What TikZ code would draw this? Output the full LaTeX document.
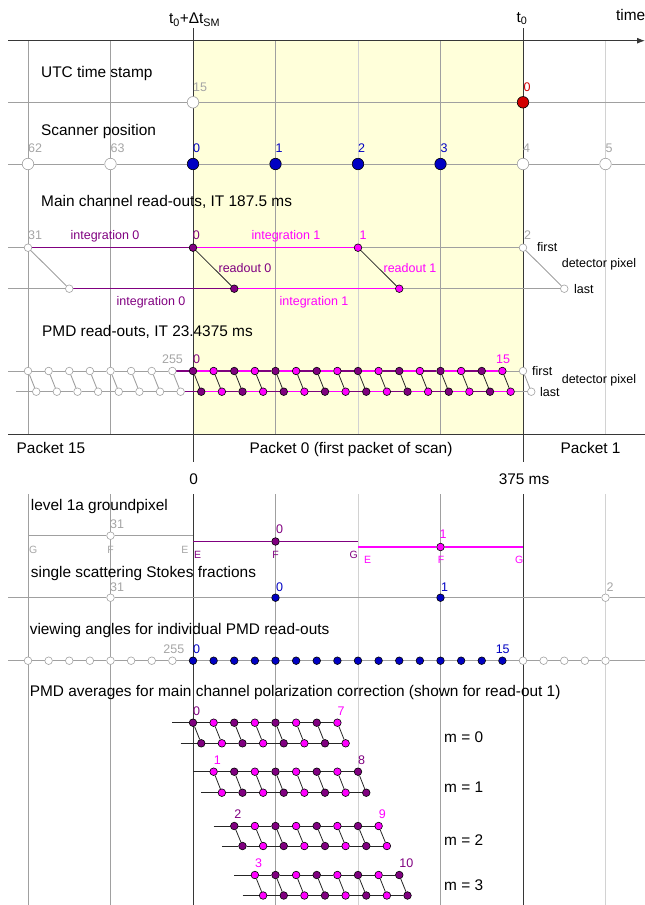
\documentclass[tikz,border=0pt]{standalone}
\usepackage{fontspec}
\setmainfont{Liberation Sans}
\usetikzlibrary{arrows.meta,calc}
\pgfdeclarelayer{back}
\pgfdeclarelayer{bg}
\pgfsetlayers{back,bg,main}
\definecolor{pur}{RGB}{128,0,128}
\definecolor{mag}{RGB}{255,0,255}
\definecolor{blu}{RGB}{0,0,195}
\definecolor{redd}{RGB}{210,0,0}
\definecolor{yel}{RGB}{255,255,218}
\definecolor{gmid}{RGB}{160,160,160}
\definecolor{glight}{RGB}{210,210,210}
\definecolor{gdark}{RGB}{55,55,55}
\definecolor{glab}{RGB}{165,165,165}
\begin{document}
\begin{tikzpicture}[x=1pt,y=-1pt,
  big/.style={font=\fontsize{15.4}{18}\selectfont,inner sep=0pt,text height=11pt,text depth=0pt},
  sml/.style={font=\fontsize{12.5}{15}\selectfont,inner sep=0pt,text height=9pt,text depth=0pt},
  tny/.style={font=\fontsize{10.5}{12}\selectfont,inner sep=0pt,text height=7.5pt,text depth=0pt},
  dot/.style={circle,draw=black,line width=0.6pt,inner sep=0pt,minimum size=7.6pt},
  wdot/.style={dot,draw=gmid,fill=white},
  pdot/.style={dot,fill=pur},
  mdot/.style={dot,fill=mag},
  bdot/.style={dot,fill=blu},
  bigw/.style={wdot,minimum size=11.5pt},
  bigb/.style={bdot,minimum size=11.5pt},
  bigr/.style={dot,fill=redd,minimum size=11.5pt},
  gline/.style={draw=gmid,line width=0.9pt},
  pline/.style={draw=pur,line width=1.3pt},
  mline/.style={draw=mag,line width=1.3pt},
  kline/.style={draw=black!85,line width=0.8pt},
]
\useasboundingbox (0,0) rectangle (645,905);

% ---------- background: yellow band, grid, axes ----------
\begin{pgfonlayer}{back}
\fill[yel] (193,40.7) rectangle (523,434);
\foreach \x/\c in {28/gmid,110.5/gmid,275.5/gmid,440.5/gmid,358/glight,605.5/glight}{
  \draw[\c,line width=0.9pt] (\x,40.7) -- (\x,434);
  \draw[\c,line width=0.9pt] (\x,494) -- (\x,905);
}
\foreach \x in {193,523}{
  \draw[gdark,line width=0.9pt] (\x,28) -- (\x,462);
  \draw[gdark,line width=0.9pt] (\x,494) -- (\x,905);
}
\coordinate (axL) at (8,40.7);
\coordinate (axR) at (645,40.7);
\draw[gdark,line width=1pt,-{Latex[length=8pt,width=6pt]}] (axL) -- (axR);
\coordinate (pkL) at (8,434);
\coordinate (pkR) at (645,434);
\draw[gdark,line width=1pt] (pkL) -- (pkR);
\end{pgfonlayer}

% ---------- top labels ----------
\node[big] (tdt) at (194.5,18) {t\textsubscript{0}+Δt\textsubscript{SM}};
\node[big] (tz) at (522,16.7) {t\textsubscript{0}};
\node[big,anchor=west] (ttime) at (616,15) {time};

% ---------- UTC time stamp ----------
\node[big,anchor=west] (hutc) at (41,72.3) {UTC time stamp};
\node[bigw] (ut0) at (193,102.3) {};
\node[bigr] (ut1) at (523,102.3) {};
\node[sml,anchor=west,text=glab] (lut0) at (193,86.7) {15};
\node[sml,anchor=west,text=redd] (lut1) at (523.5,86.7) {0};

% ---------- Scanner position ----------
\node[big,anchor=west] (hscan) at (41,130) {Scanner position};
\foreach \i/\st/\lab/\lc in {0/bigw/62/glab,1/bigw/63/glab,2/bigb/0/blu,3/bigb/1/blu,4/bigb/2/blu,5/bigb/3/blu,6/bigw/4/glab,7/bigw/5/glab}{
  \node[\st] (sc\i) at (28+82.5*\i,164) {};
  \node[sml,anchor=west,text=\lc] (lsc\i) at (28+82.5*\i,147.7) {\lab};
}

% ---------- Main channel ----------
\node[big,anchor=west] (hmain) at (41,200.7) {Main channel read-outs, IT 187.5 ms};
\node[wdot] (mf0) at (28,247.7) {};
\node[pdot] (mf1) at (193,247.7) {};
\node[mdot] (mf2) at (358,247.7) {};
\node[wdot] (mf3) at (523,247.7) {};
\node[wdot] (ml0) at (69.25,288.7) {};
\node[pdot] (ml1) at (234.25,288.7) {};
\node[mdot] (ml2) at (399.25,288.7) {};
\node[wdot] (ml3) at (564.25,288.7) {};
\node[sml,anchor=west,text=glab] (lmf0) at (28,235) {31};
\node[sml,anchor=west,text=pur] (lmf1) at (192.6,235) {0};
\node[sml,anchor=west,text=mag] (lmf2) at (359.5,235) {1};
\node[sml,anchor=west,text=glab] (lmf3) at (524,235) {2};
\node[sml,text=pur] (li0a) at (105,235) {integration 0};
\node[sml,text=mag] (li1a) at (286,235) {integration 1};
\node[sml,text=pur] (lr0) at (245,268) {readout 0};
\node[sml,text=mag] (lr1) at (410,268) {readout 1};
\node[sml,text=pur] (li0b) at (151,301) {integration 0};
\node[sml,text=mag] (li1b) at (314,301) {integration 1};
\node[sml,anchor=west] (lfirst1) at (537,247) {first};
\node[sml,anchor=west] (llast1) at (574,288.7) {last};
\node[sml] (ldp1) at (599,263) {detector pixel};

% ---------- PMD read-outs ----------
\node[big,anchor=west] (hpmd) at (42,330.7) {PMD read-outs, IT 23.4375 ms};
\foreach \i in {0,...,24}{
  \pgfmathsetmacro\xx{193+20.625*(\i-8)}
  \pgfmathtruncatemacro\kk{\i-8}
  \ifnum\kk<0 \def\st{wdot}\else\ifnum\kk>15 \def\st{wdot}\else\ifodd\kk\def\st{mdot}\else\def\st{pdot}\fi\fi\fi
  \node[\st] (pt\i) at (\xx,371) {};
  \node[\st] (pb\i) at (\xx+8.25,391.7) {};
}
\node[sml,text=glab] (lp255) at (172.5,359.3) {255};
\node[sml,anchor=west,text=pur] (lp0) at (193,359.3) {0};
\node[sml,text=mag] (lp15) at (503,358.5) {15};
\node[sml,anchor=west] (lfirst2) at (532,371) {first};
\node[sml,anchor=west] (llast2) at (540,391.7) {last};
\node[sml] (ldp2) at (599,379.3) {detector pixel};

% ---------- Packets ----------
\node[big,anchor=west] (lpk15) at (16.5,448) {Packet 15};
\node[big] (lpk0) at (351,448) {Packet 0 (first packet of scan)};
\node[big] (lpk1) at (590.5,448) {Packet 1};
\node[big] (lt0) at (193.6,479) {0};
\node[big] (lt375) at (524,479) {375 ms};

% ---------- level 1a groundpixel ----------
\node[big,anchor=west] (hgp) at (30.7,505) {level 1a groundpixel};
\node[wdot] (gp0) at (110.5,535.7) {};
\node[pdot] (gp1) at (275.5,541.5) {};
\node[mdot] (gp2) at (440.5,547) {};
\node[sml,anchor=west,text=glab] (lgp0) at (110,524) {31};
\node[sml,anchor=west,text=pur] (lgp1) at (276,529.3) {0};
\node[sml,anchor=west,text=mag] (lgp2) at (439.5,534) {1};
\node[tny,anchor=west,text=glab] (g0G) at (29,549.5) {G};
\node[tny,text=glab] (g0F) at (110.5,549.5) {F};
\node[tny,anchor=east,text=glab] (g0E) at (188.5,549.5) {E};
\node[tny,anchor=west,text=pur] (g1E) at (194,555) {E};
\node[tny,text=pur] (g1F) at (275.5,555) {F};
\node[tny,anchor=east,text=pur] (g1G) at (358,555) {G};
\node[tny,anchor=west,text=mag] (g2E) at (364,559.3) {E};
\node[tny,text=mag] (g2F) at (441,559.3) {F};
\node[tny,anchor=east,text=mag] (g2G) at (523.5,559.3) {G};

% ---------- Stokes fractions ----------
\node[big,anchor=west] (hst) at (30.7,571.7) {single scattering Stokes fractions};
\node[wdot] (st0) at (110.5,597.7) {};
\node[bdot] (st1) at (275.5,597.7) {};
\node[bdot] (st2) at (440.5,597.7) {};
\node[wdot] (st3) at (605.5,597.7) {};
\node[sml,anchor=west,text=glab] (lst0) at (110,586.7) {31};
\node[sml,anchor=west,text=blu] (lst1) at (276,586.7) {0};
\node[sml,anchor=west,text=blu] (lst2) at (441,586.7) {1};
\node[sml,anchor=west,text=glab] (lst3) at (606.5,586.7) {2};

% ---------- viewing angles ----------
\node[big,anchor=west] (hva) at (29.6,629) {viewing angles for individual PMD read-outs};
\foreach \i in {0,...,28}{
  \pgfmathsetmacro\xx{193+20.625*(\i-8)}
  \pgfmathtruncatemacro\kk{\i-8}
  \ifnum\kk<0 \def\st{wdot}\else\ifnum\kk>15 \def\st{wdot}\else\def\st{bdot}\fi\fi
  \node[\st] (va\i) at (\xx,660.7) {};
}
\node[sml,text=glab] (lva255) at (173.9,649.3) {255};
\node[sml,anchor=west,text=blu] (lva0) at (193,649.3) {0};
\node[sml,text=blu] (lva15) at (502.7,649.3) {15};

% ---------- PMD averages ----------
\node[big,anchor=west] (havg) at (29.6,691) {PMD averages for main channel polarization correction (shown for read-out 1)};
\foreach \m/\yt/\yb/\ym in {0/722.7/743.3/736.7,1/771.7/792.7/786.7,2/826/846/840,3/875/895.5/885}{
  \pgfmathtruncatemacro\kend{\m+7}
  \foreach \k in {\m,...,\kend}{
    \pgfmathsetmacro\xx{193+20.625*\k}
    \ifodd\k\def\st{mdot}\else\def\st{pdot}\fi
    \node[\st] (a\m k\k) at (\xx,\yt) {};
    \node[\st] (b\m k\k) at (\xx+8.25,\yb) {};
  }
  \pgfmathsetmacro\xa{193+20.625*\m}
  \pgfmathsetmacro\xb{193+20.625*\kend}
  \ifodd\m\def\ca{mag}\def\cb{pur}\else\def\ca{pur}\def\cb{mag}\fi
  \node[sml,anchor=west,text=\ca] (la\m) at (\xa,\yt-12) {\m};
  \node[sml,anchor=west,text=\cb] (lb\m) at (\xb,\yt-12) {\kend};
  \node[big,anchor=west] (lm\m) at (444,\ym) {m = \m};
}

% ---------- connectors ----------
\begin{pgfonlayer}{bg}
% UTC
\coordinate (utL) at (8,102.3);
\coordinate (utR) at (645,102.3);
\draw[gline] (utL) -- (ut0) -- (ut1) -- (utR);
% scanner
\coordinate (scL) at (8,164);
\coordinate (scR) at (645,164);
\draw[gline] (scL) -- (sc0);
\foreach \i [evaluate=\i as \j using int(\i-1)] in {1,...,7}{\draw[gline] (sc\j) -- (sc\i);}
\draw[gline] (sc7) -- (scR);
% main channel
\coordinate (mfL) at (8,247.7);
\coordinate (mlL) at (8,288.7);
\draw[gline] (mfL) -- (mf0);
\draw[pline] (mf0) -- (mf1);
\draw[mline] (mf1) -- (mf2);
\draw[gline] (mf2) -- (mf3);
\draw[gline] (mlL) -- (ml0);
\draw[pline] (ml0) -- (ml1);
\draw[mline] (ml1) -- (ml2);
\draw[gline] (ml2) -- (ml3);
\draw[gline] (mf0) -- (ml0);
\draw[kline] (mf1) -- (ml1);
\draw[kline] (mf2) -- (ml2);
\draw[gline] (mf3) -- (ml3);
% PMD read-outs
\coordinate (ptL) at (8,371);
\coordinate (pbL) at (16.25,391.7);
\draw[gline] (ptL) -- (pt0);
\draw[gline] (pbL) -- (pb0);
\foreach \i [evaluate=\i as \j using int(\i-1)] in {1,...,24}{
  \pgfmathtruncatemacro\kk{\i-8}
  \ifnum\kk<0 \def\ls{gline}\else\ifnum\kk>15 \def\ls{gline}\else\ifodd\kk\def\ls{mline}\else\def\ls{pline}\fi\fi\fi
  \draw[\ls] (pt\j) -- (pt\i);
  \draw[\ls] (pb\j) -- (pb\i);
}
\foreach \i in {0,...,24}{
  \pgfmathtruncatemacro\kk{\i-8}
  \ifnum\kk<0 \def\ls{gline}\else\ifnum\kk>15 \def\ls{gline}\else\def\ls{kline}\fi\fi
  \draw[\ls] (pt\i) -- (pb\i);
}
% groundpixel
\coordinate (gpa) at (28,535.7);
\coordinate (gpb) at (193,535.7);
\coordinate (gpc) at (193,541.5);
\coordinate (gpd) at (358,541.5);
\coordinate (gpe) at (358,547);
\coordinate (gpf) at (523,547);
\draw[gline] (gpa) -- (gp0) -- (gpb);
\draw[pline] (gpc) -- (gp1) -- (gpd);
\draw[mline] (gpe) -- (gp2) -- (gpf);
% Stokes
\coordinate (stL) at (8,597.7);
\coordinate (stR) at (645,597.7);
\draw[gline] (stL) -- (st0) -- (st1) -- (st2) -- (st3) -- (stR);
% viewing angles
\coordinate (vaL) at (8,660.7);
\coordinate (vaR) at (645,660.7);
\draw[gline] (vaL) -- (va0);
\foreach \i [evaluate=\i as \j using int(\i-1)] in {1,...,28}{\draw[gline] (va\j) -- (va\i);}
\draw[gline] (va28) -- (vaR);
% PMD averages
\foreach \m/\yt/\yb in {0/722.7/743.3,1/771.7/792.7,2/826/846,3/875/895.5}{
  \pgfmathtruncatemacro\kend{\m+7}
  \pgfmathtruncatemacro\kst{\m+1}
  \coordinate (aL\m) at (193+20.625*\m-20.625,\yt);
  \coordinate (bL\m) at (193+20.625*\m-20.625+8.25,\yb);
  \draw[kline] (aL\m) -- (a\m k\m);
  \draw[kline] (bL\m) -- (b\m k\m);
  \foreach \k [evaluate=\k as \j using int(\k-1)] in {\kst,...,\kend}{
    \draw[kline] (a\m k\j) -- (a\m k\k);
    \draw[kline] (b\m k\j) -- (b\m k\k);
  }
  \foreach \k in {\m,...,\kend}{\draw[kline] (a\m k\k) -- (b\m k\k);}
}
\end{pgfonlayer}
\end{tikzpicture}
\end{document}
